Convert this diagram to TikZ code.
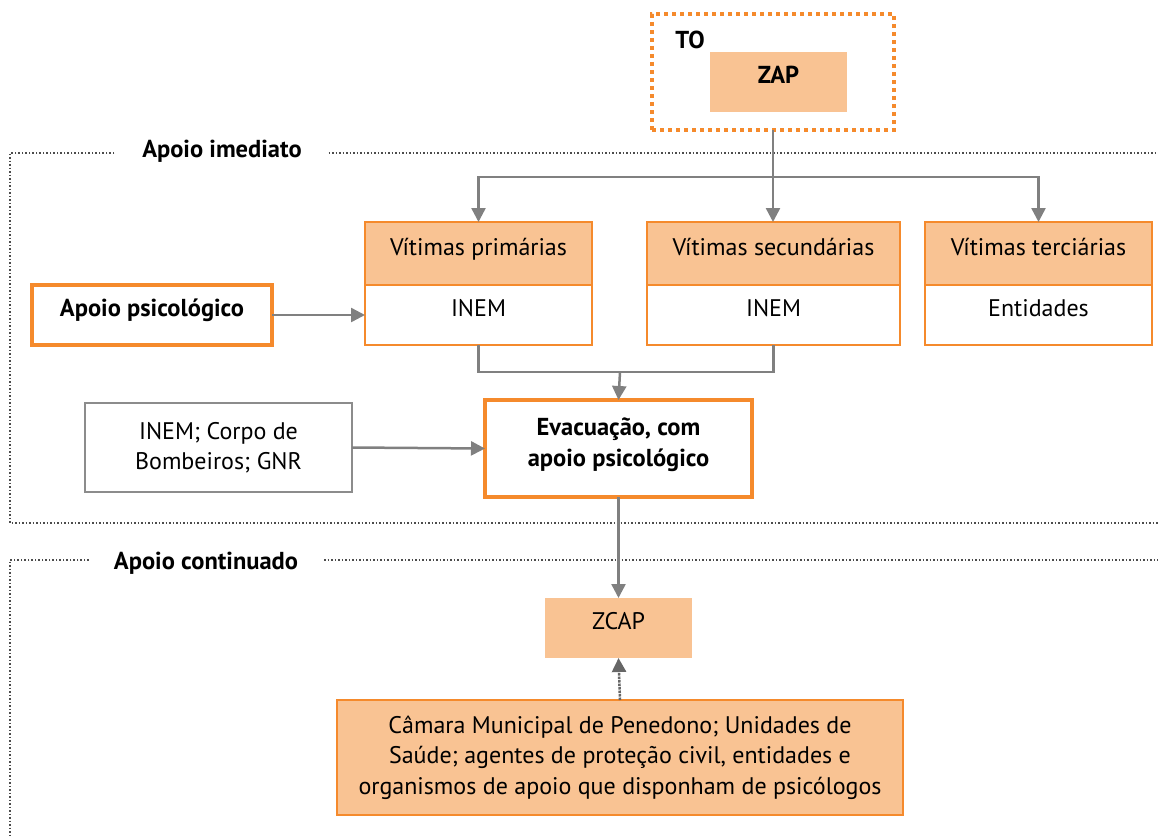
\documentclass[tikz,border=0pt]{standalone}
\usepackage{fontspec}
\setmainfont{PT Sans}
\usetikzlibrary{positioning, arrows.meta}
\definecolor{orangeline}{HTML}{F58A2C}
\definecolor{peach}{HTML}{F9C393}
\definecolor{arrowgray}{HTML}{808080}

\begin{document}
\begin{tikzpicture}[x=1pt, y=-1pt, >={Triangle[width=14pt,length=14pt]},
    every node/.style={font=\fontsize{24}{30.5}\selectfont, inner sep=0pt, outer sep=0pt, align=center},
    oneline/.style={text height=0.75em, text depth=0.45em},
    head/.style={oneline, draw=orangeline, line width=2.5pt, fill=peach, minimum height=63pt},
    body/.style={oneline, draw=orangeline, line width=2.5pt, fill=white, minimum height=60pt},
    strong/.style={draw=orangeline, line width=4pt, font=\fontsize{24.5}{31}\selectfont\bfseries},
    label/.style={font=\fontsize{24.5}{30}\selectfont\bfseries},
    flow/.style={->, draw=arrowgray, line width=2.5pt},
    frame/.style={draw=black!70, line width=1.5pt, dotted}]
    \useasboundingbox (0,0) rectangle (1158,835);

    % Theatre of operations
    \node[draw=orangeline, line width=4pt, dash pattern=on 4pt off 4pt, minimum width=242pt, minimum height=116pt] (to) at (773,72) {};
    \node[label] (tolabel) at (690,40) {TO};
    \node[oneline, fill=peach, minimum width=137pt, minimum height=60pt, label] (zap) at (778.5,82) {ZAP};

    % Frames
    \node[label] (imediato) at (222,151) {Apoio imediato};
    \draw[frame] ([xshift=-28pt]imediato.west |- 0,153) -| (10,523) -- (1158,523);
    \draw[frame] ([xshift=27pt]imediato.east |- 0,153) -- (1158,153);
    \node[label] (continuado) at (206,563) {Apoio continuado};
    \draw[frame] ([xshift=-25pt]continuado.west |- 0,560) -| (10,835);
    \draw[frame] ([xshift=26pt]continuado.east |- 0,560) -- (1158,560);

    % Victims
    \node[head, minimum width=227pt] (vp) at (478.5,253.5) {Vítimas primárias};
    \node[body, minimum width=227pt, below=0pt of vp] (vpb) {INEM};
    \node[head, minimum width=253pt] (vs) at (773.5,253.5) {Vítimas secundárias};
    \node[body, minimum width=253pt, below=0pt of vs] (vsb) {INEM};
    \node[head, minimum width=227pt] (vt) at (1038.5,253.5) {Vítimas terciárias};
    \node[body, minimum width=227pt, below=0pt of vt] (vtb) {Entidades};

    % Support
    \node[strong, oneline, minimum width=240pt, minimum height=60pt] (psi) at (152,315) {Apoio psicológico};
    \node[strong, minimum width=267pt, minimum height=97pt, text depth=12pt] (evac) at (618.5,448.5) {Evacuação, com\\apoio psicológico};
    \node[draw=black!45, line width=1.5pt, minimum width=267pt, minimum height=89pt] (agentes) at (218.5,447.5) {INEM; Corpo de\\Bombeiros; GNR};
    \node[oneline, fill=peach, minimum width=147pt, minimum height=60pt] (zcap) at (618.5,628) {ZCAP};
    \node[draw=orangeline, line width=2.5pt, fill=peach, minimum width=566pt, minimum height=115pt] (camara) at (620,757.5) {Câmara Municipal de Penedono; Unidades de\\Saúde; agentes de proteção civil, entidades e\\organismos de apoio que disponham de psicólogos};

    % Connectors
    \coordinate (split) at (773,177);
    \draw[flow] (to.south) -- (to.south |- vs.north);
    \draw[flow] (split) -| (vp.north);
    \draw[flow] (split) -| (vt.north);
    \coordinate (merge) at (620,372);
    \draw[draw=arrowgray, line width=2.5pt] (vpb.south) |- (vsb.south |- merge) -- (vsb.south);
    \draw[flow] (merge) -- (evac.north);
    \draw[flow] (psi.east) -- (vpb.west);
    \draw[flow] (agentes.east) -- (evac.west);
    \draw[flow] (evac.south) -- (zcap.north);
    \draw[flow, draw=black!60, densely dotted] (camara.north) -- (zcap.south);

\end{tikzpicture}
\end{document}
